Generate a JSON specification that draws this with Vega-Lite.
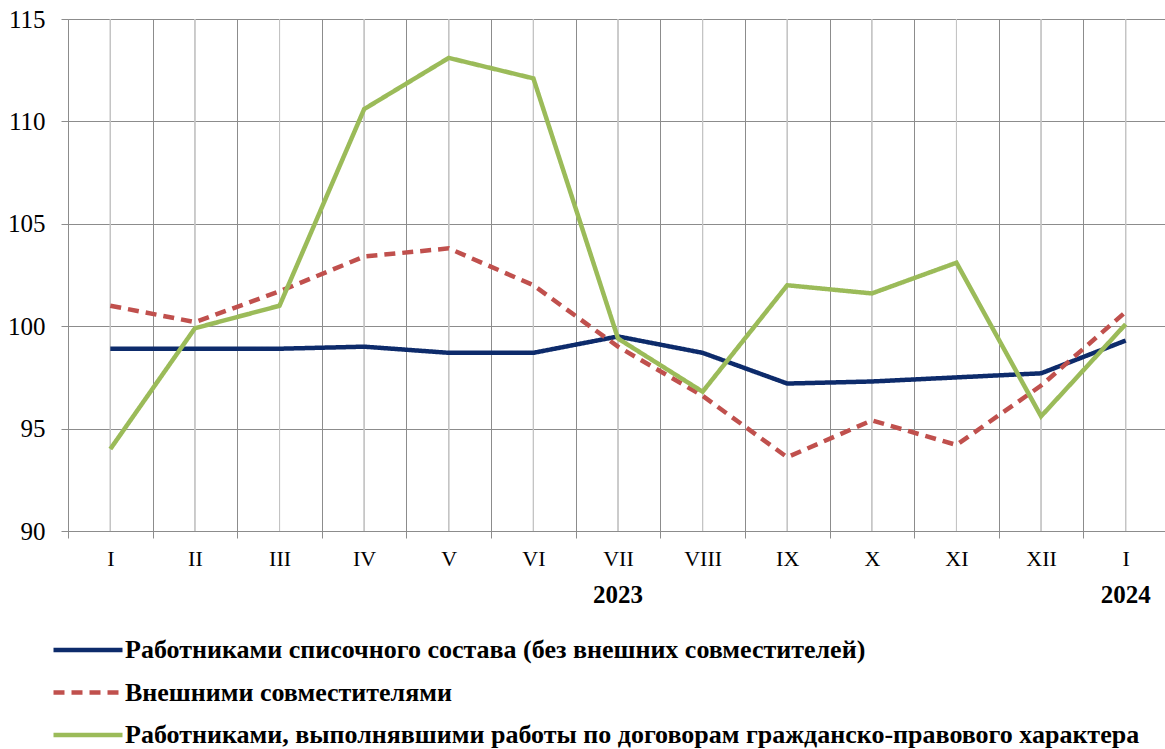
{
  "$schema": "https://vega.github.io/schema/vega-lite/v6.json",
  "width": 1097,
  "height": 512,
  "autosize": {"type": "none"},
  "padding": {"left": 68, "top": 19, "right": 0, "bottom": 218},
  "background": "white",
  "config": {
    "view": {"stroke": null},
    "font": "Liberation Serif",
    "axis": {"labelFont": "Liberation Serif", "titleFont": "Liberation Serif"},
    "legend": {
      "labelFont": "Liberation Serif",
      "titleFont": "Liberation Serif",
      "labelFontSize": 26,
      "labelFontWeight": "bold",
      "labelColor": "#000000",
      "symbolType": "stroke",
      "symbolSize": 4761,
      "symbolStrokeWidth": 4.5,
      "labelLimit": 0,
      "clipHeight": 26,
      "rowPadding": 16.5,
      "labelOffset": 0,
      "padding": 0
    }
  },
  "data": {
    "values": [
      {"p": "01", "s": "Работниками списочного состава (без внешних совместителей)", "v": 98.9},
      {"p": "02", "s": "Работниками списочного состава (без внешних совместителей)", "v": 98.9},
      {"p": "03", "s": "Работниками списочного состава (без внешних совместителей)", "v": 98.9},
      {"p": "04", "s": "Работниками списочного состава (без внешних совместителей)", "v": 99.0},
      {"p": "05", "s": "Работниками списочного состава (без внешних совместителей)", "v": 98.7},
      {"p": "06", "s": "Работниками списочного состава (без внешних совместителей)", "v": 98.7},
      {"p": "07", "s": "Работниками списочного состава (без внешних совместителей)", "v": 99.5},
      {"p": "08", "s": "Работниками списочного состава (без внешних совместителей)", "v": 98.7},
      {"p": "09", "s": "Работниками списочного состава (без внешних совместителей)", "v": 97.2},
      {"p": "10", "s": "Работниками списочного состава (без внешних совместителей)", "v": 97.3},
      {"p": "11", "s": "Работниками списочного состава (без внешних совместителей)", "v": 97.5},
      {"p": "12", "s": "Работниками списочного состава (без внешних совместителей)", "v": 97.7},
      {"p": "13", "s": "Работниками списочного состава (без внешних совместителей)", "v": 99.3},
      {"p": "01", "s": "Внешними совместителями", "v": 101.0},
      {"p": "02", "s": "Внешними совместителями", "v": 100.2},
      {"p": "03", "s": "Внешними совместителями", "v": 101.7},
      {"p": "04", "s": "Внешними совместителями", "v": 103.4},
      {"p": "05", "s": "Внешними совместителями", "v": 103.8},
      {"p": "06", "s": "Внешними совместителями", "v": 102.0},
      {"p": "07", "s": "Внешними совместителями", "v": 99.0},
      {"p": "08", "s": "Внешними совместителями", "v": 96.6},
      {"p": "09", "s": "Внешними совместителями", "v": 93.6},
      {"p": "10", "s": "Внешними совместителями", "v": 95.4},
      {"p": "11", "s": "Внешними совместителями", "v": 94.2},
      {"p": "12", "s": "Внешними совместителями", "v": 97.1},
      {"p": "13", "s": "Внешними совместителями", "v": 100.7},
      {"p": "01", "s": "Работниками, выполнявшими работы по договорам  гражданско-правового характера", "v": 94.0},
      {"p": "02", "s": "Работниками, выполнявшими работы по договорам  гражданско-правового характера", "v": 99.9},
      {"p": "03", "s": "Работниками, выполнявшими работы по договорам  гражданско-правового характера", "v": 101.0},
      {"p": "04", "s": "Работниками, выполнявшими работы по договорам  гражданско-правового характера", "v": 110.6},
      {"p": "05", "s": "Работниками, выполнявшими работы по договорам  гражданско-правового характера", "v": 113.1},
      {"p": "06", "s": "Работниками, выполнявшими работы по договорам  гражданско-правового характера", "v": 112.1},
      {"p": "07", "s": "Работниками, выполнявшими работы по договорам  гражданско-правового характера", "v": 99.4},
      {"p": "08", "s": "Работниками, выполнявшими работы по договорам  гражданско-правового характера", "v": 96.8},
      {"p": "09", "s": "Работниками, выполнявшими работы по договорам  гражданско-правового характера", "v": 102.0},
      {"p": "10", "s": "Работниками, выполнявшими работы по договорам  гражданско-правового характера", "v": 101.6},
      {"p": "11", "s": "Работниками, выполнявшими работы по договорам  гражданско-правового характера", "v": 103.1},
      {"p": "12", "s": "Работниками, выполнявшими работы по договорам  гражданско-правового характера", "v": 95.6},
      {"p": "13", "s": "Работниками, выполнявшими работы по договорам  гражданско-правового характера", "v": 100.1}
    ]
  },
  "resolve": {"axis": {"x": "independent"}},
  "layer": [
    {
      "mark": {"type": "rule", "color": "#c4c4c4", "strokeWidth": 1},
      "encoding": {
        "x": {
          "field": "p",
          "type": "ordinal",
          "scale": {"paddingInner": 0, "paddingOuter": 0, "range": [0, 1100]},
          "axis": {
            "orient": "bottom",
            "title": null,
            "grid": false,
            "domain": false,
            "ticks": false,
            "tickSize": 0,
            "labelAngle": 0,
            "labelExpr": "datum.value == '07' ? '2023' : datum.value == '13' ? '2024' : ''",
            "labelFont": "Liberation Serif",
            "labelFontSize": 25,
            "labelFontWeight": "bold",
            "labelColor": "#000000",
            "labelPadding": 51.5
          }
        }
      }
    },
    {
      "mark": {"type": "line", "strokeWidth": 4.5},
      "encoding": {
        "x": {
          "field": "p",
          "type": "ordinal",
          "axis": {
            "orient": "bottom",
            "title": null,
            "grid": true,
            "tickBand": "extent",
            "gridColor": "#8c8c8c",
            "gridWidth": 1,
            "domain": true,
            "domainColor": "#8c8c8c",
            "ticks": true,
            "tickColor": "#8c8c8c",
            "tickSize": 7,
            "labelAngle": 0,
            "labelExpr": "['I','II','III','IV','V','VI','VII','VIII','IX','X','XI','XII','I'][toNumber(datum.value) - 1]",
            "labelFont": "Liberation Serif",
            "labelFontSize": 22,
            "labelColor": "#000000",
            "labelPadding": 10
          }
        },
        "y": {
          "field": "v",
          "type": "quantitative",
          "scale": {"domain": [90, 115], "nice": false, "zero": false},
          "axis": {
            "title": null,
            "values": [90, 95, 100, 105, 110, 115],
            "grid": true,
            "gridColor": "#8c8c8c",
            "domain": true,
            "domainColor": "#8c8c8c",
            "tickColor": "#8c8c8c",
            "tickSize": 7,
            "labelFont": "Liberation Serif",
            "labelFontSize": 25,
            "labelColor": "#000000",
            "labelPadding": 16
          }
        },
        "color": {
          "field": "s",
          "type": "nominal",
          "scale": {
            "domain": ["Работниками списочного состава (без внешних совместителей)", "Внешними совместителями", "Работниками, выполнявшими работы по договорам  гражданско-правового характера"],
            "range": ["#0D2B6B", "#C0504D", "#9BBB59"]
          },
          "legend": {"title": null, "orient": "none", "legendX": -17, "legendY": 618, "direction": "vertical"}
        },
        "strokeDash": {
          "field": "s",
          "type": "nominal",
          "scale": {
            "domain": ["Работниками списочного состава (без внешних совместителей)", "Внешними совместителями", "Работниками, выполнявшими работы по договорам  гражданско-правового характера"],
            "range": [[1, 0], [11, 7], [1, 0]]
          },
          "legend": {"title": null, "orient": "none", "legendX": -17, "legendY": 618, "direction": "vertical"}
        }
      }
    }
  ]
}
